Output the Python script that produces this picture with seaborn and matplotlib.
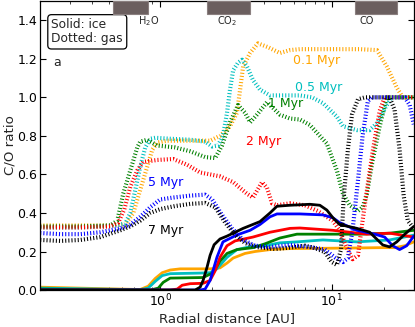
import matplotlib
matplotlib.use("Agg")
import matplotlib.pyplot as plt
import seaborn as sns

# time labels and colours (one entry per disc age)
ages = ["0.1 Myr", "0.5 Myr", "1 Myr", "2 Myr", "5 Myr", "7 Myr"]
colors = ["#ffa500", "#00bfbf", "#008000", "#ff0000", "#0000ff", "#000000"]

# gas-phase C/O (dotted)
gas_r_01 = [0.2, 0.343, 0.512, 0.626, 0.697, 0.765, 0.84, 0.898, 0.961, 1.098, 1.494, 1.952, 2.23, 2.55, 2.80,
            2.92, 3.04, 3.34, 3.71, 4.25, 4.98, 5.70, 6.51, 9.73, 14.5, 18.3, 20.9, 23.9, 25.9, 30]
gas_co_01 = [0.335, 0.335, 0.335, 0.34, 0.40, 0.52, 0.64, 0.727, 0.765, 0.775, 0.775, 0.775, 0.80, 0.85, 0.92,
             1.04, 1.16, 1.23, 1.28, 1.26, 1.23, 1.245, 1.25, 1.25, 1.25, 1.245, 1.16, 1.05, 1.0, 1.0]

gas_r_05 = [0.2, 0.343, 0.548, 0.626, 0.669, 0.716, 0.765, 0.818, 0.875, 0.935, 1.143, 1.494, 1.826, 2.006, 2.17,
            2.32, 2.45, 2.55, 2.66, 2.84, 3.00, 3.20, 3.47, 3.81, 4.36, 6.51, 7.65, 8.87, 10.7, 11.6, 14.0, 16.6,
            18.5, 20.6, 22.3, 30]
gas_co_05 = [0.325, 0.325, 0.335, 0.345, 0.40, 0.52, 0.64, 0.74, 0.785, 0.79, 0.785, 0.78, 0.77, 0.745, 0.75,
             0.80, 0.92, 1.04, 1.14, 1.18, 1.195, 1.16, 1.09, 1.04, 1.01, 1.01, 1.0, 0.97, 0.90, 0.85, 0.83, 0.83,
             0.87, 0.95, 1.0, 1.0]

gas_r_1 = [0.2, 0.343, 0.512, 0.562, 0.609, 0.669, 0.735, 0.765, 0.84, 0.961, 1.222, 1.494, 1.826, 2.09, 2.29,
           2.55, 2.84, 3.12, 3.34, 3.66, 4.19, 4.54, 4.98, 5.70, 6.51, 7.44, 8.51, 9.35, 10.7, 11.6, 12.7, 14.2,
           15.1, 16.0, 17.3, 19.0, 20.9, 30]
gas_co_1 = [0.33, 0.33, 0.335, 0.36, 0.50, 0.62, 0.74, 0.77, 0.78, 0.75, 0.74, 0.72, 0.69, 0.685, 0.75,
            0.87, 0.96, 0.92, 0.87, 0.91, 0.975, 0.945, 0.91, 0.89, 0.885, 0.857, 0.80, 0.76, 0.62, 0.50, 0.44, 0.41,
            0.43, 0.50, 0.675, 0.85, 1.0, 1.0]

gas_r_2 = [0.2, 0.343, 0.512, 0.570, 0.618, 0.669, 0.735, 0.796, 0.961, 1.19, 1.436, 1.708, 2.23, 2.66, 3.20,
           3.47, 3.92, 4.19, 4.48, 4.79, 5.70, 6.96, 8.29, 10.1, 11.1, 12.2, 13.2, 14.2, 15.1, 16.2, 17.3, 19.0,
           20.3, 30]
gas_co_2 = [0.325, 0.325, 0.33, 0.35, 0.42, 0.535, 0.62, 0.665, 0.675, 0.68, 0.65, 0.61, 0.59, 0.56, 0.50,
            0.48, 0.56, 0.53, 0.45, 0.44, 0.45, 0.44, 0.41, 0.36, 0.31, 0.22, 0.16, 0.18, 0.36, 0.55, 0.72, 0.93,
            1.0, 1.0]

gas_r_5 = [0.2, 0.262, 0.343, 0.448, 0.585, 0.669, 0.765, 0.875, 1.0, 1.19, 1.494, 1.826, 2.006, 2.29, 2.62,
           3.04, 3.57, 4.36, 5.70, 7.44, 9.10, 10.4, 11.6, 12.4, 13.2, 14.2, 15.1, 16.2, 17.1, 26.6, 28.4, 30]
gas_co_5 = [0.296, 0.29, 0.29, 0.30, 0.32, 0.34, 0.38, 0.43, 0.47, 0.48, 0.49, 0.495, 0.47, 0.39, 0.32,
            0.26, 0.23, 0.223, 0.234, 0.223, 0.21, 0.17, 0.145, 0.166, 0.31, 0.57, 0.80, 0.98, 1.0, 1.0, 0.96, 0.86]

gas_r_7 = [0.2, 0.262, 0.343, 0.448, 0.585, 0.669, 0.765, 0.875, 1.0, 1.222, 1.494, 1.826, 2.09, 2.39, 2.73,
           3.12, 3.66, 4.66, 6.09, 6.96, 7.96, 9.10, 10.0, 10.7, 11.3, 11.7, 12.4, 13.1, 14.2, 15.6, 21.7, 23.2,
           24.8, 26.2, 27.7, 30]
gas_co_7 = [0.26, 0.255, 0.26, 0.275, 0.31, 0.33, 0.36, 0.40, 0.42, 0.436, 0.447, 0.452, 0.43, 0.35, 0.286,
            0.244, 0.223, 0.213, 0.223, 0.23, 0.218, 0.197, 0.145, 0.13, 0.21, 0.47, 0.73, 0.91, 0.99, 1.0, 1.0, 0.935,
            0.73, 0.49, 0.36, 0.32]

# ice C/O (solid)
ice_r_01 = [0.2, 0.343, 0.585, 0.765, 0.851, 0.935, 1.027, 1.143, 1.307, 1.952, 2.23, 2.45, 2.66, 3.12, 3.57,
            4.36, 5.70, 12.7, 19.0, 23.2, 26.6, 30]
ice_co_01 = [0.015, 0.01, 0.005, 0.003, 0.02, 0.06, 0.09, 0.104, 0.11, 0.11, 0.115, 0.14, 0.166, 0.19, 0.20,
             0.21, 0.215, 0.218, 0.22, 0.22, 0.23, 0.25]

ice_r_05 = [0.2, 0.448, 0.765, 0.851, 0.935, 1.027, 1.143, 1.708, 1.952, 2.14, 2.45, 2.80, 3.34, 4.08, 4.98,
            6.26, 8.87, 14.0, 21.7, 30]
ice_co_05 = [0.01, 0.005, 0.002, 0.01, 0.045, 0.075, 0.085, 0.088, 0.09, 0.11, 0.17, 0.21, 0.225, 0.23, 0.245,
             0.25, 0.26, 0.25, 0.26, 0.285]

ice_r_1 = [0.2, 0.448, 0.875, 0.974, 1.041, 1.143, 1.778, 2.03, 2.23, 2.45, 2.80, 3.47, 4.08, 4.98, 6.26,
           10.14, 14.5, 21.7, 30]
ice_co_1 = [0.005, 0.002, 0.0, 0.01, 0.04, 0.062, 0.065, 0.09, 0.15, 0.19, 0.21, 0.22, 0.24, 0.27, 0.29,
            0.29, 0.29, 0.295, 0.31]

ice_r_2 = [0.2, 1.143, 1.256, 1.342, 1.494, 1.778, 1.952, 2.09, 2.23, 2.45, 2.73, 3.47, 4.36, 5.70, 6.51,
           10.14, 16.0, 21.7, 30]
ice_co_2 = [0.0, 0.0, 0.005, 0.025, 0.033, 0.035, 0.05, 0.10, 0.17, 0.23, 0.255, 0.275, 0.30, 0.32, 0.322,
            0.31, 0.29, 0.295, 0.275]

ice_r_5 = [0.2, 1.708, 1.826, 1.952, 2.06, 2.14, 2.32, 2.80, 3.34, 3.81, 4.36, 4.79, 6.51, 8.87, 10.14,
           11.1, 14.0, 17.8, 20.3, 22.6, 24.8, 27.3, 30]
ice_co_5 = [0.0, 0.0, 0.005, 0.05, 0.12, 0.17, 0.25, 0.286, 0.31, 0.34, 0.38, 0.395, 0.395, 0.39, 0.375,
            0.35, 0.31, 0.29, 0.275, 0.23, 0.21, 0.23, 0.28]

ice_r_7 = [0.2, 1.597, 1.708, 1.778, 1.876, 1.952, 2.06, 2.23, 2.45, 3.04, 3.81, 4.36, 4.79, 5.70, 7.44,
           8.51, 9.35, 10.14, 11.1, 14.0, 16.6, 19.8, 21.7, 23.9, 26.6, 30]
ice_co_7 = [0.0, 0.0, 0.015, 0.05, 0.12, 0.18, 0.235, 0.265, 0.28, 0.32, 0.355, 0.40, 0.435, 0.44, 0.445,
            0.44, 0.415, 0.375, 0.34, 0.32, 0.30, 0.234, 0.224, 0.25, 0.29, 0.33]

gas_r = [gas_r_01, gas_r_05, gas_r_1, gas_r_2, gas_r_5, gas_r_7]
gas_co = [gas_co_01, gas_co_05, gas_co_1, gas_co_2, gas_co_5, gas_co_7]
ice_r = [ice_r_01, ice_r_05, ice_r_1, ice_r_2, ice_r_5, ice_r_7]
ice_co = [ice_co_01, ice_co_05, ice_co_1, ice_co_2, ice_co_5, ice_co_7]

# where each age label sits (AU, C/O)
label_r = [8.18, 8.4, 5.4, 4.02, 1.07, 1.07]
label_co = [1.19, 1.05, 0.97, 0.77, 0.56, 0.31]

# snowline bands
snow_names = ["H$_2$O", "CO$_2$", "CO"]
snow_lo = [0.53, 1.88, 13.6]
snow_hi = [0.85, 3.33, 23.9]
snow_label_r = [0.85, 2.45, 16.0]

sns.set_style("ticks")
plt.rcParams["font.family"] = ["DejaVu Sans"]
plt.rcParams["xtick.direction"] = "in"
plt.rcParams["ytick.direction"] = "in"
plt.rcParams["xtick.top"] = True
plt.rcParams["ytick.right"] = True

fig = plt.figure(figsize=(4.15, 3.27), dpi=100)
ax = fig.add_axes([0.097, 0.113, 0.9, 0.884])
ax.set_xscale("log")

for i in range(len(ages)):
    sns.lineplot(x=gas_r[i], y=gas_co[i], ax=ax, color=colors[i], lw=3.0,
                 linestyle=(0, (0.25, 0.5)), dash_capstyle="butt",
                 estimator=None, sort=False)
    sns.lineplot(x=ice_r[i], y=ice_co[i], ax=ax, color=colors[i], lw=2.0,
                 estimator=None, sort=False)
    ax.text(label_r[i], label_co[i], ages[i], color=colors[i], fontsize=9,
            ha="center", va="center")

for name, lo, hi, lr in zip(snow_names, snow_lo, snow_hi, snow_label_r):
    ax.axvspan(lo, hi, ymin=1.43 / 1.5, ymax=1.0, facecolor="#6b5f5f",
               edgecolor="#8a7f7f", lw=0.8, zorder=5)
    ax.text(lr, 1.395, name, fontsize=7, ha="center", va="center")

ax.text(0.03, 0.94, "Solid: ice\nDotted: gas", transform=ax.transAxes, fontsize=8.8,
        ha="left", va="top", linespacing=1.1,
        bbox=dict(boxstyle="round,pad=0.3", fc="white", ec="black", lw=0.9))
ax.text(0.035, 0.786, "a", transform=ax.transAxes, fontsize=9, ha="left", va="center")

ax.set_xlim(0.2, 30)
ax.set_ylim(0, 1.5)
ax.set_yticks([0.0, 0.2, 0.4, 0.6, 0.8, 1.0, 1.2, 1.4])
ax.tick_params(axis="both", which="major", labelsize=9, length=4, width=0.8, pad=2, colors="black")
ax.tick_params(axis="both", which="minor", length=2, width=0.6)
ax.set_xlabel("Radial distance [AU]", fontsize=9.6, labelpad=2)
ax.set_ylabel("C/O ratio", fontsize=9.6, labelpad=1)
for s in ax.spines.values():
    s.set_color("black")
    s.set_linewidth(0.9)

fig.savefig("out.png", dpi=100)
